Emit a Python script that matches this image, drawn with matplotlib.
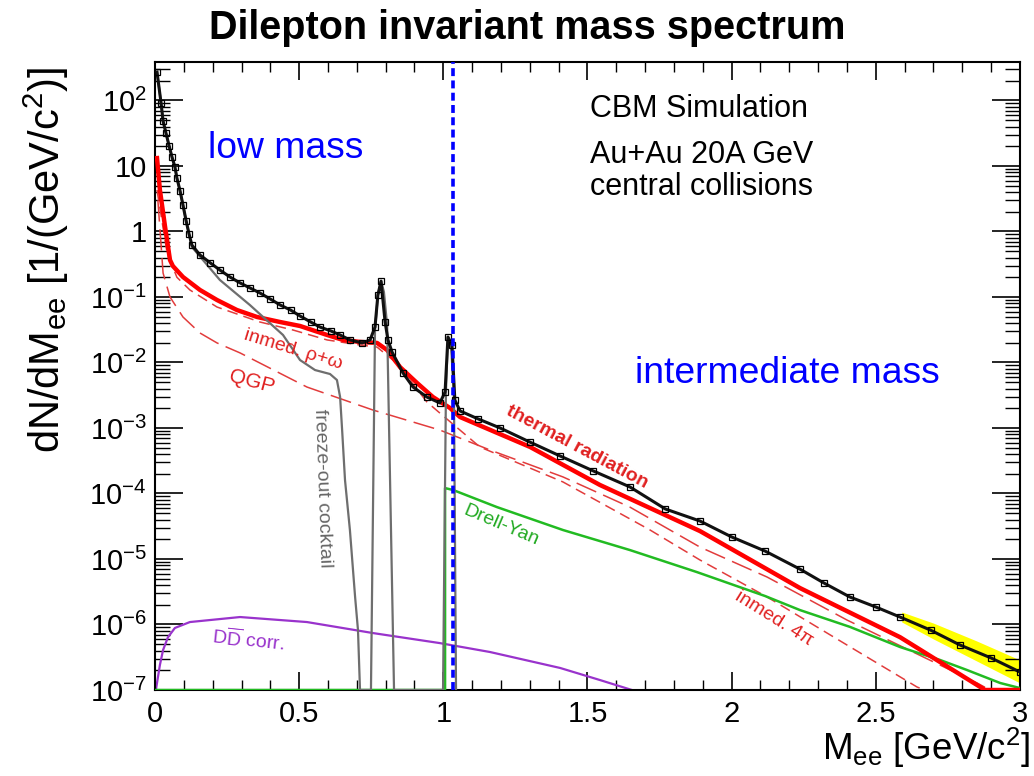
import numpy as np
import matplotlib.pyplot as plt
from matplotlib.ticker import LogLocator, MultipleLocator, NullFormatter

plt.rcParams['font.family'] = ['Liberation Sans', 'DejaVu Sans']
plt.rcParams['mathtext.fontset'] = 'custom'
plt.rcParams['mathtext.rm'] = 'Liberation Sans'
plt.rcParams['mathtext.it'] = 'Liberation Sans:italic'
plt.rcParams['mathtext.bf'] = 'Liberation Sans:bold'

# --- data (M_ee in GeV/c^2, dN/dM_ee) ---
# total spectrum (open squares)
tot_x = [0.007, 0.021, 0.028, 0.038, 0.049, 0.059, 0.069, 0.076, 0.087, 0.097,
         0.108, 0.118, 0.128, 0.156, 0.190, 0.225, 0.260, 0.295, 0.330, 0.364,
         0.400, 0.434, 0.470, 0.503, 0.540, 0.572, 0.610, 0.642, 0.676, 0.718,
         0.746, 0.763, 0.773, 0.784, 0.798, 0.808, 0.822, 0.860, 0.895, 0.943,
         0.988, 1.006, 1.016, 1.030, 1.040, 1.058, 1.12, 1.197, 1.30, 1.405,
         1.52, 1.647, 1.77, 1.890, 2.00, 2.116, 2.237, 2.32, 2.410, 2.50,
         2.584, 2.69, 2.792, 2.90, 3.0]
tot_y = [272, 91.6, 48.6, 31.9, 20.2, 13.7, 9.7, 6.56, 4.15, 2.54,
         1.45, 0.92, 0.62, 0.438, 0.336, 0.258, 0.202, 0.164, 0.137, 0.115,
         0.093, 0.0755, 0.0633, 0.0513, 0.0415, 0.0348, 0.0303, 0.0263, 0.0221, 0.0199,
         0.0221, 0.0348, 0.107, 0.175, 0.0415, 0.0221, 0.0145, 6.92e-3, 4.22e-3, 2.97e-3,
         2.41e-3, 3.55e-3, 0.0245, 0.0185, 2.67e-3, 1.82e-3, 1.38e-3, 1.0e-3, 6.1e-4, 3.74e-4,
         2.21e-4, 1.26e-4, 5.8e-5, 3.8e-5, 2.17e-5, 1.32e-5, 7.0e-6, 4.3e-6, 2.63e-6, 1.85e-6,
         1.30e-6, 8.2e-7, 4.86e-7, 3.08e-7, 1.88e-7]

# freeze-out cocktail (grey line)
cock_x = [0.007, 0.021, 0.028, 0.038, 0.049, 0.059, 0.069, 0.076, 0.087, 0.097,
          0.108, 0.118, 0.128, 0.225, 0.329, 0.444, 0.503, 0.555, 0.607, 0.631,
          0.642, 0.649, 0.659, 0.676, 0.694, 0.704, 0.711, 0.749, 0.763, 0.773,
          0.784, 0.794, 0.805, 0.829, 0.999, 1.009, 1.016, 1.027, 1.037, 1.044]
cock_y = [272, 91.6, 48.6, 31.9, 20.2, 13.7, 9.7, 6.56, 4.15, 2.54,
          1.45, 0.92, 0.58, 0.182, 0.0755, 0.0263, 0.0109, 7.67e-3, 6.67e-3, 5.4e-3,
          2.97e-3, 9.3e-4, 1.6e-4, 2.77e-5, 2.63e-6, 8.2e-7, 1e-7, 1e-7, 0.0313, 0.107,
          0.175, 0.119, 0.0374, 1e-7, 1e-7, 3.55e-3, 0.0245, 0.0185, 2.67e-3, 1e-7]

# thermal radiation (thick red)
th_x = [0.007, 0.017, 0.035, 0.052, 0.062, 0.097, 0.156, 0.215, 0.284, 0.354,
        0.434, 0.503, 0.597, 0.652, 0.711, 0.770, 0.805, 0.850, 0.909, 0.964,
        1.023, 1.058, 1.301, 1.543, 1.890, 2.237, 2.584, 2.879, 3.0]
th_y = [13.2, 4.31, 1.17, 0.367, 0.297, 0.202, 0.128, 0.090, 0.0633, 0.0495,
        0.0415, 0.0361, 0.0263, 0.0221, 0.0206, 0.0199, 0.0155, 8.5e-3, 4.86e-3, 2.97e-3,
        2.02e-3, 1.47e-3, 5.13e-4, 1.35e-4, 2.67e-5, 3.6e-6, 6.4e-7, 1e-7, 1e-7]

# QGP (long dashes)
qgp_x = [0.010, 0.028, 0.052, 0.097, 0.156, 0.215, 0.295, 0.527, 0.756, 0.988,
         1.162, 1.415, 1.647, 1.890, 2.123, 2.400, 2.851, 2.896]
qgp_y = [3.0, 0.232, 0.1, 0.0495, 0.0282, 0.0199, 0.0140, 4.22e-3, 1.88e-3, 9.3e-4,
         4.61e-4, 1.79e-4, 6.2e-5, 1.52e-5, 5.3e-6, 1.17e-6, 1.28e-7, 1e-7]

# in-medium rho+omega / 4pi (short dashes)
inm_x = [0.007, 0.042, 0.076, 0.121, 0.215, 0.364, 0.479, 0.597, 0.711, 0.770,
         0.825, 0.884, 0.943, 0.988, 1.127, 1.415, 1.717, 1.890, 2.123, 2.400,
         2.643, 2.67]
inm_y = [4.3, 0.47, 0.20, 0.128, 0.0703, 0.0415, 0.0313, 0.0221, 0.0185, 0.0172,
         0.0109, 5.4e-3, 2.5e-3, 1.69e-3, 5.13e-4, 1.50e-4, 2.77e-5, 9.66e-6, 2.63e-6, 4.86e-7,
         1.11e-7, 1e-7]

# Drell-Yan (green)
dy_x = [0.0, 1.006, 1.006, 1.034, 1.186, 1.415, 1.647, 1.880, 2.116, 2.237,
        2.410, 2.584, 2.723, 2.816, 2.931, 3.0]
dy_y = [1e-7, 1e-7, 1.21e-4, 1.13e-4, 6.2e-5, 2.77e-5, 1.37e-5, 6.3e-6, 2.72e-6, 1.66e-6,
        9.2e-7, 4.53e-7, 2.87e-7, 2.02e-7, 1.28e-7, 1.07e-7]

# open charm DDbar (purple)
dd_x = [0.003, 0.017, 0.028, 0.045, 0.069, 0.121, 0.295, 0.527, 0.756, 0.988,
        1.162, 1.405, 1.543, 1.654]
dd_y = [1e-7, 2.41e-7, 4.08e-7, 6.4e-7, 8.85e-7, 1.09e-6, 1.30e-6, 1.09e-6, 7.4e-7, 5.2e-7,
        3.8e-7, 2.17e-7, 1.42e-7, 1e-7]

# yellow error band at high mass
band_x = [2.59, 2.70, 2.85, 3.0]
band_lo = [1.09e-6, 6.0e-7, 2.77e-7, 1.28e-7]
band_hi = [1.55e-6, 1.05e-6, 5.6e-7, 2.87e-7]

mass_boundary = 1.035

ytick_vals = [1e-7, 1e-6, 1e-5, 1e-4, 1e-3, 1e-2, 1e-1, 1, 10, 100]
ytick_labels = [r'$10^{-7}$', r'$10^{-6}$', r'$10^{-5}$', r'$10^{-4}$', r'$10^{-3}$',
                r'$10^{-2}$', r'$10^{-1}$', '1', '10', r'$10^{2}$']
xtick_vals = [0, 0.5, 1, 1.5, 2, 2.5, 3]
xtick_labels = ['0', '0.5', '1', '1.5', '2', '2.5', '3']

W, H = 1034, 776


def px(x, y):
    return x / W, 1 - y / H


fig = plt.figure(figsize=(W / 100, H / 100), dpi=100)
ax = fig.add_axes([155 / W, 86 / H, 865 / W, 628 / H])
ax.set_yscale('log')
ax.set_xlim(0, 3)
ax.set_ylim(1e-7, 387)

ax.fill_between(band_x, band_lo, band_hi, color='#ffff00', lw=0, zorder=1)
ax.plot(dd_x, dd_y, color='#9933cc', lw=1.6, zorder=2)
ax.plot(dy_x, dy_y, color='#22bb22', lw=1.8, zorder=2.6)
ax.plot(qgp_x, qgp_y, color='#e23c3c', lw=1.1, ls=(0, (14, 5)), zorder=2)
ax.plot(inm_x, inm_y, color='#e23c3c', lw=1.1, ls=(0, (7, 4)), zorder=2)
ax.plot(th_x, th_y, color='#ff0000', lw=3.2, zorder=3)
ax.plot(cock_x, cock_y, color='#6e6e6e', lw=1.6, zorder=4)
ax.plot(tot_x, tot_y, color='#111111', lw=2.2, marker='s', ms=3.8,
        mfc='none', mec='black', mew=0.9, zorder=5)
ax.axvline(mass_boundary, color='#0000ff', lw=2.6, ls=(0, (2.2, 1.2)), zorder=6)

ax.set_yticks(ytick_vals)
ax.set_yticklabels(ytick_labels)
ax.set_xticks(xtick_vals)
ax.set_xticklabels(xtick_labels)
ax.yaxis.set_minor_locator(LogLocator(base=10, subs=np.arange(2, 10), numticks=20))
ax.yaxis.set_minor_formatter(NullFormatter())
ax.xaxis.set_minor_locator(MultipleLocator(0.1))
ax.tick_params(which='both', direction='in', top=True, right=True, labelsize=21)
ax.tick_params(axis='y', which='major', length=20, width=1.2, pad=6)
ax.tick_params(axis='y', which='minor', length=11, width=1.0)
ax.tick_params(axis='x', which='major', length=13, width=1.2, pad=7)
ax.tick_params(axis='x', which='minor', length=7, width=1.0)
for s in ax.spines.values():
    s.set_linewidth(1.5)

# titles and axis labels
fig.text(*px(527, 28), 'Dilepton invariant mass spectrum', ha='center', va='center',
         fontsize=28.5, fontweight='bold')
fig.text(*px(46, 260), r'dN/dM$_{\mathrm{ee}}$ [1/(GeV/c$^{2}$)]', rotation=90,
         ha='center', va='center', fontsize=30)
fig.text(*px(1030, 760), r'M$_{\mathrm{ee}}$ [GeV/c$^{2}$]', ha='right', va='baseline',
         fontsize=26.5)

# annotations
fig.text(*px(590, 117), 'CBM Simulation', fontsize=22, va='baseline')
fig.text(*px(590, 163), 'Au+Au 20A GeV', fontsize=22, va='baseline')
fig.text(*px(590, 195), 'central collisions', fontsize=22, va='baseline')
fig.text(*px(208, 158), 'low mass', fontsize=26.8, color='#0000ff', va='baseline')
fig.text(*px(635, 383), 'intermediate mass', fontsize=26.8, color='#0000ff', va='baseline')

fig.text(*px(577, 447), 'thermal radiation', fontsize=14, fontweight='bold', color='#e02020',
         rotation=-28, ha='center', va='center', rotation_mode='anchor')
fig.text(*px(501, 526), 'Drell-Yan', fontsize=14, color='#22aa22',
         rotation=-23, ha='center', va='center', rotation_mode='anchor')
fig.text(*px(293, 350), 'inmed. ρ+ω', fontsize=14, color='#e02020',
         rotation=-17, ha='center', va='center', rotation_mode='anchor')
fig.text(*px(252, 382), 'QGP', fontsize=15, color='#e02020',
         rotation=-15, ha='center', va='center', rotation_mode='anchor')
fig.text(*px(322, 488), 'freeze-out cocktail', fontsize=14, color='#666666',
         rotation=-88, ha='center', va='center', rotation_mode='anchor')
fig.text(*px(248, 640), r'$\mathrm{D\overline{D}}$ corr.', fontsize=14, color='#9933cc',
         rotation=-6, ha='center', va='center', rotation_mode='anchor')
fig.text(*px(774, 619), 'inmed. 4π', fontsize=14, color='#e02020',
         rotation=-32, ha='center', va='center', rotation_mode='anchor')

fig.savefig('out.png', dpi=100)
